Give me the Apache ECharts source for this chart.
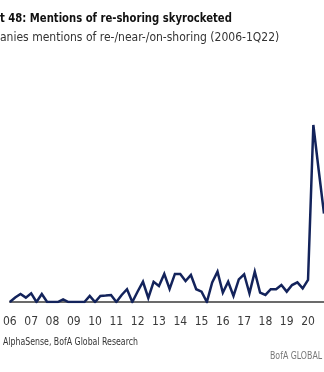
<!DOCTYPE html>
<html>
<head>
<meta charset="utf-8">
<script src="https://cdn.jsdelivr.net/npm/echarts@6/dist/echarts.min.js"></script>
<style>
html,body{margin:0;padding:0;background:#fff;}
#c{width:324px;height:372px;}
</style>
</head>
<body>
<div id="c"></div>
<script>
// Quarters 2006Q1 .. 2020Q4 (the image is cropped on the right)
const years = ['06','07','08','09','10','11','12','13','14','15','16','17','18','19','20'];
const quarters = [];
years.forEach(y => { for (let q = 1; q <= 4; q++) quarters.push(y + 'Q' + q); });

// Mentions of re-/near-/on-shoring
const mentions = [
  0, 3, 5.3, 2.9,   5.8, 0, 5.3, 0,
  0, 0, 1.8, 0,     0, 0, 0, 4,
  0, 4, 4.3, 4.7,   0, 4.7, 8.5, 0,
  7, 13.5, 2.7, 13.5,  10.7, 18.7, 8.7, 18.7,
  18.7, 14, 18, 8.5,   6.9, 0, 13, 20.2,
  6.2, 13.5, 4, 15.1,  18.5, 5.8, 20.2, 6.2,
  4.7, 8.5, 8.5, 11.3, 6.9, 11.3, 13.1, 9.1,
  14.7, 118, 88, 59
];

const titleText = 't 48: Mentions of re-shoring skyrocketed';
const subtitleText = 'anies mentions of re-/near-/on-shoring (2006-1Q22)';
const sourceText = 'AlphaSense, BofA Global Research';
const brandText = 'BofA GLOBAL';

const FONT = "'Liberation Sans Narrow', 'DejaVu Sans Condensed', 'Roboto', sans-serif";

const chart = echarts.init(document.getElementById('c'), null, {renderer: 'canvas'});
chart.setOption({
  animation: false,
  backgroundColor: '#ffffff',
  grid: {left: 4, right: -2, top: 2, bottom: 70, containLabel: false},
  xAxis: {
    type: 'category',
    data: quarters,
    boundaryGap: false,
    axisLine: {lineStyle: {color: '#6b6b6b', width: 2}},
    axisTick: {show: false},
    axisLabel: {
      interval: 3,
      margin: 14,
      color: '#3a3a3a',
      fontSize: 12,
      fontFamily: FONT,
      formatter: v => v.slice(0, 2)
    },
    splitLine: {show: false}
  },
  yAxis: {
    type: 'value',
    min: 0,
    max: 200,
    show: false
  },
  series: [{
    type: 'line',
    data: mentions,
    symbol: 'none',
    lineStyle: {color: '#13235b', width: 2.5, join: 'miter'},
    z: 3
  }],
  graphic: [
    {type: 'text', x: 0, y: 12, scaleX: 0.86, style: {text: titleText, font: "bold 13px " + FONT, fill: '#111111'}},
    {type: 'text', x: 0, y: 32, scaleX: 1, style: {text: subtitleText, font: "12px " + FONT, fill: '#333333'}},
    {type: 'text', x: 3, y: 337, scaleX: 0.87, style: {text: sourceText, font: "10px " + FONT, fill: '#333333'}},
    {type: 'text', x: 270, y: 351, scaleX: 0.87, style: {text: brandText, font: "10px " + FONT, fill: '#777777'}}
  ]
});
</script>
</body>
</html>
